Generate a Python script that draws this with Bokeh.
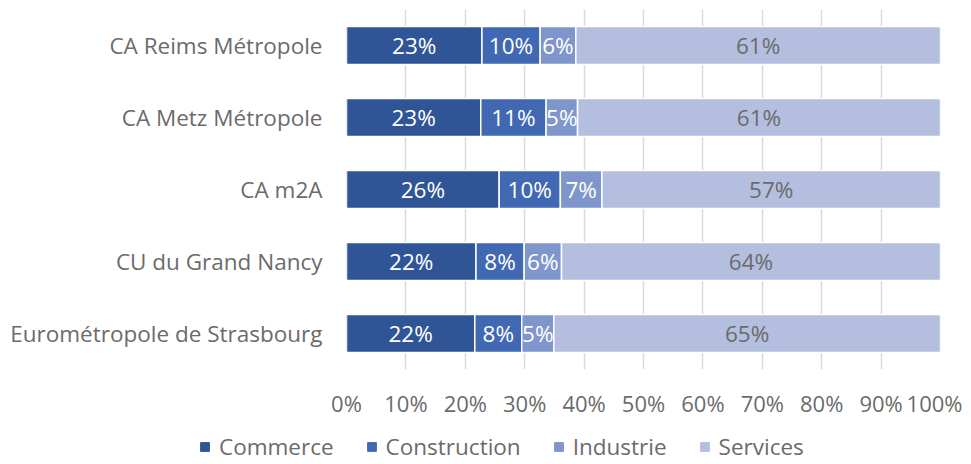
from bokeh.plotting import figure
from bokeh.layouts import column, row
from bokeh.models import ColumnDataSource, FactorRange, Legend, LegendItem, FixedTicker, CustomJSTickFormatter
from bokeh.core.properties import value
from bokeh.embed import file_html
from bokeh.resources import INLINE

categories = ["CA Reims Métropole", "CA Metz Métropole", "CA m2A",
              "CU du Grand Nancy", "Eurométropole de Strasbourg"]
series = ["Commerce", "Construction", "Industrie", "Services"]
commerce = [22.8, 22.6, 25.7, 21.8, 21.6]
construction = [9.8, 11.0, 10.3, 8.1, 7.9]
industrie = [6.0, 5.3, 7.0, 6.3, 5.4]
services = [61.4, 61.1, 57.0, 63.8, 65.1]
colors = ["#2F5597", "#4168B2", "#7F96CD", "#B4BFE0"]
label_colors = ["#FFFFFF", "#FFFFFF", "#FFFFFF", "#6B6B6B"]
x_ticks = [0, 10, 20, 30, 40, 50, 60, 70, 80, 90, 100]

FONT = "Open Sans"
GRAY = "#6B6B6B"

data = {"cat": categories, "Commerce": commerce, "Construction": construction,
        "Industrie": industrie, "Services": services}
src = ColumnDataSource(data)

p = figure(y_range=FactorRange(*reversed(categories)), x_range=(0, 100),
           frame_width=594, frame_height=360,
           min_border_left=346, min_border_right=22, min_border_top=9, min_border_bottom=62,
           output_backend="svg", toolbar_location=None)

renderers = p.hbar_stack(series, y="cat", height=0.53, color=colors, source=src,
                         line_color="white", line_width=1.5)

# data labels
vals = [commerce, construction, industrie, services]
for i, s in enumerate(series):
    xs, txt = [], []
    for j in range(len(categories)):
        left = sum(vals[k][j] for k in range(i))
        xs.append(left + vals[i][j] / 2)
        txt.append(f"{round(vals[i][j])}%")
    lsrc = ColumnDataSource(dict(x=xs, y=categories, t=txt))
    p.text(x="x", y="y", text="t", source=lsrc, text_align="center",
           text_baseline="middle", text_font=value(FONT), text_font_size="22.5px",
           text_color=label_colors[i])

p.xgrid.ticker = FixedTicker(ticks=x_ticks)
p.xgrid.grid_line_color = "#D9D9D9"
p.xgrid.grid_line_width = 1.5
p.ygrid.grid_line_color = None
p.outline_line_color = None

p.xaxis.ticker = FixedTicker(ticks=x_ticks)
p.xaxis.formatter = CustomJSTickFormatter(code="return tick + '%';")
p.xaxis.axis_line_color = None
p.xaxis.major_tick_line_color = None
p.xaxis.minor_tick_line_color = None
p.xaxis.major_tick_out = 0
p.xaxis.major_label_text_font = FONT
p.xaxis.major_label_text_font_size = "22px"
p.xaxis.major_label_text_color = GRAY
p.xaxis.major_label_standoff = 18

p.yaxis.axis_line_color = None
p.yaxis.major_tick_line_color = None
p.yaxis.minor_tick_line_color = None
p.yaxis.major_tick_out = 0
p.yaxis.major_label_text_font = FONT
p.yaxis.major_label_text_font_size = "22.5px"
p.yaxis.major_label_text_color = GRAY
p.yaxis.major_label_standoff = 24

# legend strip below the chart (dummy renderers kept outside the visible range)
lf = figure(width=962, height=31, x_range=(0, 1), y_range=(0, 1),
            min_border_left=0, min_border_right=0, min_border_top=0, min_border_bottom=0,
            output_backend="svg", toolbar_location=None)
lf.axis.visible = False
lf.grid.grid_line_color = None
lf.outline_line_color = None
dummy = ColumnDataSource(dict(x=[-5], y=[-5]))
lrs = [lf.hbar(y="y", right="x", height=0.5, color=c, source=dummy) for c in colors]
legend = Legend(items=[LegendItem(label=s, renderers=[r]) for s, r in zip(series, lrs)],
                orientation="horizontal", location=(199, 0),
                label_text_font=FONT, label_text_font_size="22.5px", label_text_color=GRAY,
                glyph_width=11, glyph_height=11, spacing=32, label_standoff=9,
                border_line_color=None, background_fill_alpha=0, padding=0, margin=0)
lf.add_layout(legend)

layout = column(p, row(lf), spacing=0)
open("out.html", "w").write(file_html(layout, INLINE))
